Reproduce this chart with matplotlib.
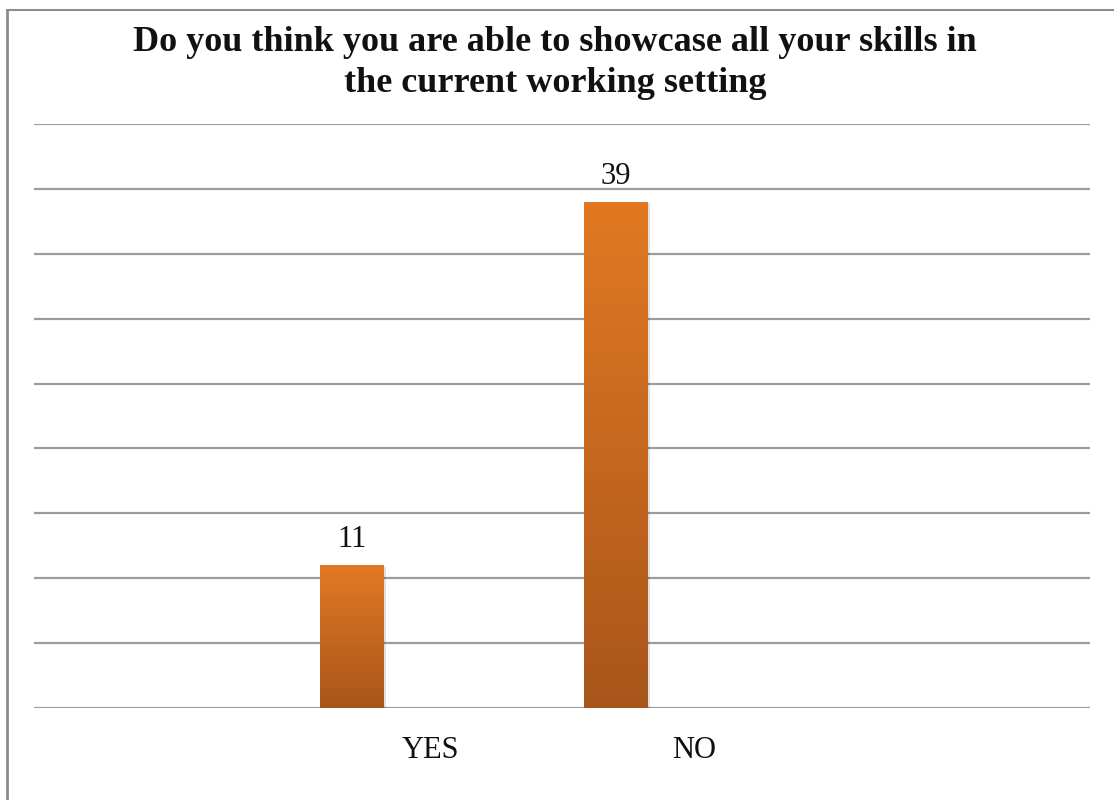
import matplotlib
matplotlib.use("Agg")
import matplotlib.pyplot as plt
import numpy as np
from matplotlib.colors import LinearSegmentedColormap
from matplotlib.patches import Rectangle
from matplotlib.lines import Line2D

title = "Do you think you are able to showcase all your skills in\nthe current working setting"
categories = ["YES", "NO"]
values = [11, 39]
slot_positions = [1, 2]          # category slots out of four (0..3)
y_max = 45
y_step = 5

serif = ["Liberation Serif", "DejaVu Serif"]

fig = plt.figure(figsize=(11.14, 8.0), dpi=100)
ax = fig.add_axes([34 / 1114, 1 - 708 / 800, (1090 - 34) / 1114, (708 - 124) / 800])

# horizontal gridlines
for yv in np.arange(0, y_max + 0.1, y_step):
    ax.axhline(yv, color="#9c9c9c", lw=1.6, zorder=1)

cmap = LinearSegmentedColormap.from_list("bar", ["#a8561b", "#e27922"])
grad = np.linspace(0, 1, 256).reshape(-1, 1)

offset = -0.295
width = 0.242
for pos, val in zip(slot_positions, values):
    x0 = pos + offset - width / 2
    # soft shadow
    sh = Rectangle((x0 + 0.006, 0), width, val - 0.1, facecolor="#000000",
                   alpha=0.12, edgecolor="none", zorder=2)
    ax.add_patch(sh)
    rect = Rectangle((x0, 0), width, val, facecolor="none", edgecolor="none", zorder=3)
    ax.add_patch(rect)
    im = ax.imshow(grad, extent=[x0, x0 + width, 0, val], origin="lower",
                   cmap=cmap, aspect="auto", zorder=3)
    im.set_clip_path(rect)
    ax.text(pos + offset, val + 0.85, str(val), ha="center", va="bottom",
            fontsize=22, family=serif, color="#111111", zorder=4)

ax.set_aspect("auto")
ax.set_xlim(-0.5, 3.5)
ax.set_ylim(0, y_max)

ax.set_xticks(slot_positions)
ax.set_xticklabels(categories, family=serif, fontsize=22, color="#111111")
ax.tick_params(axis="x", length=0, pad=20)
ax.set_yticks([])
for s in ax.spines.values():
    s.set_visible(False)

fig.text(555 / 1114, 1 - 63 / 800, title, ha="center", va="center", fontsize=26,
         fontweight="bold", family=serif, color="#111111", linespacing=1.33)

# chart border (left and top edges)
fig.add_artist(Line2D([6.5 / 1114, 6.5 / 1114], [0, 1 - 9.5 / 800],
                      transform=fig.transFigure, color="#8c8c8c", lw=2))
fig.add_artist(Line2D([6.5 / 1114, 1], [1 - 9.5 / 800, 1 - 9.5 / 800],
                      transform=fig.transFigure, color="#8c8c8c", lw=1.5))

fig.savefig("out.png", dpi=100)
